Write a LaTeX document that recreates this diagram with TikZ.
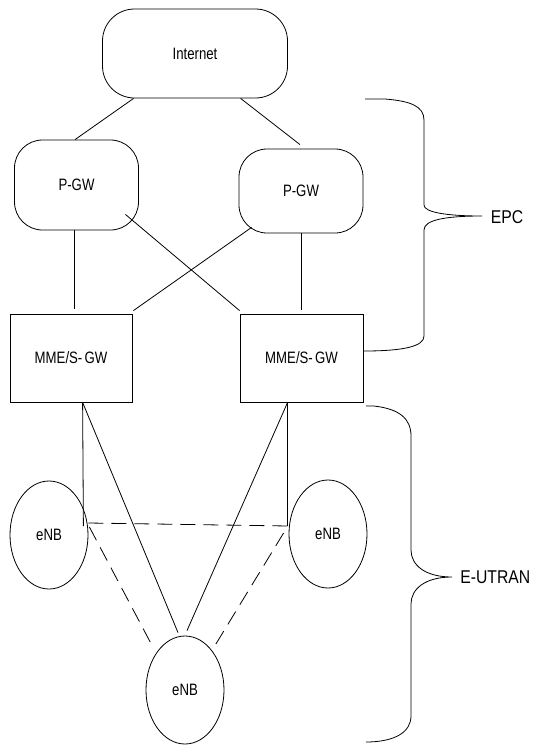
\documentclass[tikz,border=0pt]{standalone}
\usepackage{fontspec}
\setmainfont{Liberation Sans}
\usetikzlibrary{shapes.geometric,calc}
\newcommand{\lbl}[1]{\scalebox{0.8}[1]{\fontsize{16.5}{18}\selectfont #1}}
\newcommand{\biglbl}[1]{\scalebox{0.85}[1]{\fontsize{18.5}{20}\selectfont #1}}
\begin{document}
\begin{tikzpicture}[x=1pt,y=-1pt,
  every path/.style={line width=0.8pt},
  roundbox/.style={draw, rounded corners=28pt, inner sep=0pt},
  squarebox/.style={draw, inner sep=0pt, minimum width=122pt, minimum height=88pt},
  cell/.style={draw, ellipse, inner sep=0pt, minimum width=78pt},
  link/.style={draw},
  xlink/.style={draw, dash pattern=on 15pt off 8pt},
  brace/.style={draw}
]
\useasboundingbox (0,0) rectangle (537,745);

% nodes
\node[roundbox, rounded corners=32pt, minimum width=185pt, minimum height=89pt] (inet) at (195,53.5) {\lbl{Internet}};
\node[roundbox, minimum width=124pt, minimum height=90pt] (pgwL) at (76.5,185) {\lbl{P-GW}};
\node[roundbox, minimum width=124pt, minimum height=84pt] (pgwR) at (301,191) {\lbl{P-GW}};
\node[squarebox] (mmeL) at (71,358) {\lbl{MME/S-\,GW}};
\node[squarebox, minimum width=123pt] (mmeR) at (301.5,358) {\lbl{MME/S-\,GW}};
\node[cell, minimum height=108pt] (enbL) at (49,535) {\lbl{eNB}};
\node[cell, minimum height=108pt] (enbR) at (328,534) {\lbl{eNB}};
\node[cell, minimum height=108pt] (enbB) at (185,690) {\lbl{eNB}};

\node[anchor=center] (epc) at (507,217) {\biglbl{EPC}};
\node[anchor=west, inner sep=0pt] (eutran) at (460,577) {\biglbl{E-UTRAN}};

% connectors internet - pgw
\draw[link] ($(inet.south west)+(31.5,0)$) -- ($(pgwL.north)+(-1.5,0)$);
\draw[link] ($(inet.south west)+(138.5,0)$) -- ($(pgwR.north)+(-1,-4)$);
% pgw - mme
\draw[link] ($(pgwL.south)+(-2.5,0)$) -- ($(mmeL.north)+(3,-5)$);
\draw[link] ($(pgwR.south)+(0,0)$) -- ($(mmeR.north)+(-0.5,-4)$);
\draw[link] ($(pgwL.south east)+(-13.5,-16)$) -- ($(mmeR.north west)+(0,-3)$);
\draw[link] ($(pgwR.south west)+(13,-6)$) -- ($(mmeL.north east)+(1,-3)$);
% mme - enb
\draw[link] ($(mmeL.south west)+(73,0)$) -- ($(enbL.east)+(-5,-9)$);
\draw[link] ($(mmeL.south west)+(73,0)$) -- ($(enbB.north)+(-7,-3)$);
\draw[link] ($(mmeR.south west)+(48,0)$) -- ($(enbR.west)+(-1,-8)$);
\draw[link] ($(mmeR.south west)+(48,0)$) -- ($(enbB.north)+(2,-5)$);
% enb - enb (dashed)
\draw[xlink] ($(enbL.east)+(0,-12)$) -- ($(enbR.west)+(0,-8)$);
\draw[xlink] ($(enbL.east)+(1,-8)$) -- ($(enbB.north west)+(-6.4,-8.5)$);
\draw[xlink] ($(enbR.west)+(-5,-1)$) -- ($(enbB.north east)+(2.4,-6.5)$);

% braces
\draw[brace] (365,99) -- (385,99) .. controls (410,101) and (424,106) .. (424,120)
  -- (424,205) .. controls (424,212) and (445,216) .. (482,216)
  .. controls (445,216) and (424,220) .. (424,230)
  -- (424,336) .. controls (424,346) and (405,351) .. (364,351);
\draw[brace] (366,406) -- (374,406) .. controls (400,409) and (411,419) .. (411,436)
  -- (411,550) .. controls (411,565) and (425,577) .. (452,577)
  .. controls (425,577) and (411,589) .. (411,604)
  -- (411,716) .. controls (411,732) and (395,742) .. (366,742);
\end{tikzpicture}
\end{document}
